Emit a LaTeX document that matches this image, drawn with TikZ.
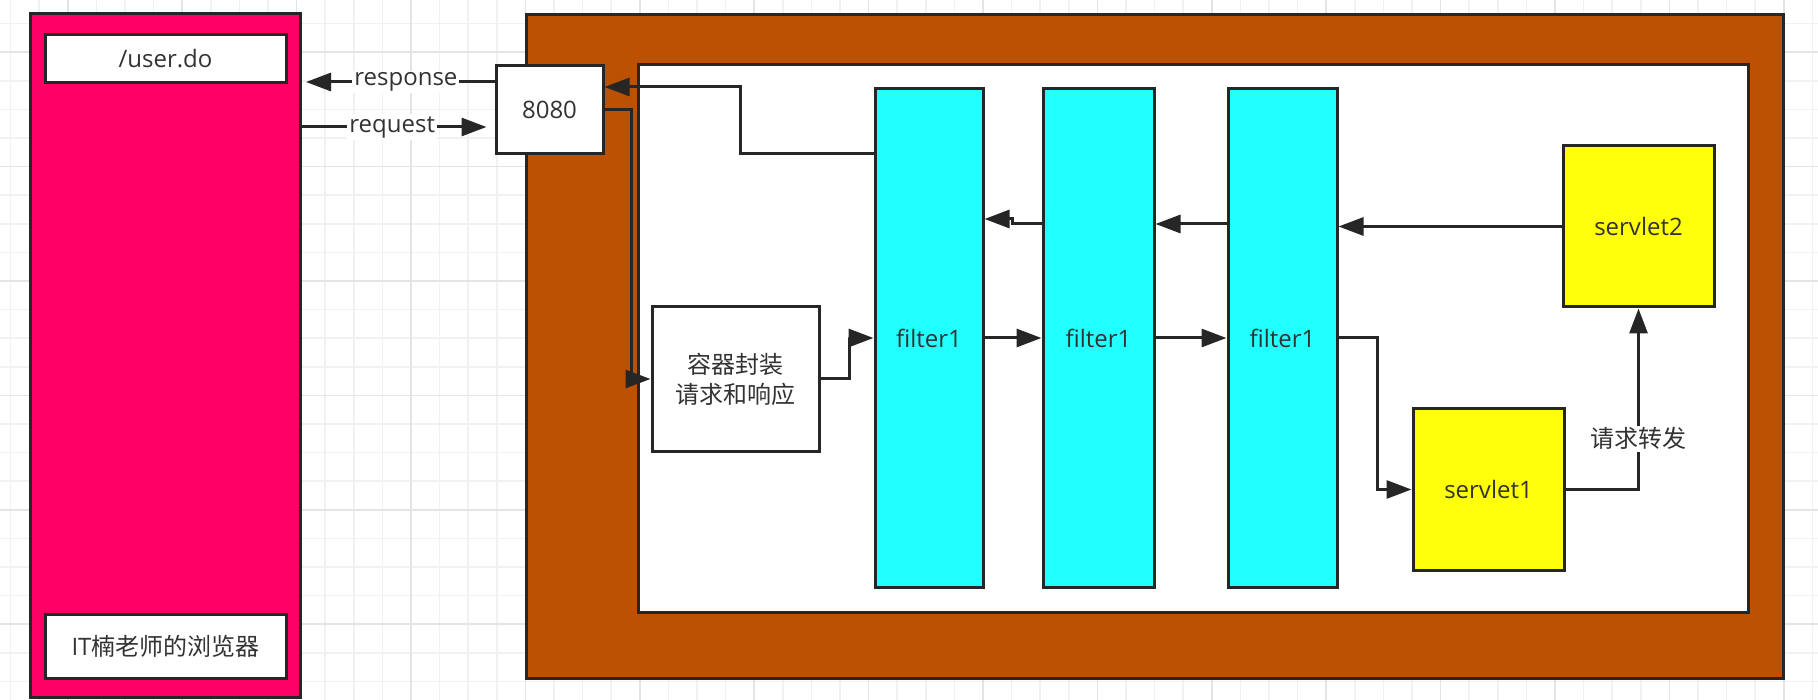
\documentclass[tikz,border=0pt]{standalone}
\usepackage{fontspec}
\newfontfamily\cjk{Noto Sans CJK SC}
\newfontfamily\latin{Open Sans}
\definecolor{BrowserPink}{HTML}{FF0066}
\definecolor{ServerBrown}{HTML}{BD5102}
\definecolor{FilterCyan}{HTML}{22FFFF}
\definecolor{ServletYellow}{HTML}{FFFF0A}
\definecolor{LineDark}{HTML}{262626}
\definecolor{TextGray}{HTML}{333333}
\definecolor{GridMinor}{HTML}{F1F1F1}
\definecolor{GridMajor}{HTML}{E4E4E4}
\usetikzlibrary{arrows.meta, positioning, calc}
\tikzset{
    box/.style={
        draw=LineDark,
        line width=3pt,
        fill=#1,
        text=TextGray,
        font=\latin\fontsize{24}{30}\selectfont,
        align=center,
        inner sep=0pt
    },
    box/.default=white,
    cjkbox/.style={
        box=#1,
        font=\cjk\fontsize{24}{30}\selectfont
    },
    cjkbox/.default=white,
    arrow/.style={
        -{Triangle[length=25pt,width=18pt]},
        line width=3pt,
        LineDark
    },
    lbl/.style={
        fill=white,
        inner sep=2pt,
        text=TextGray,
        font=\latin\fontsize{24}{30}\selectfont
    },
    gridline/.style={
        line width=1.6pt,
        #1
    }
}

\begin{document}
\begin{tikzpicture}[x=1pt, y=-1pt]
        \useasboundingbox (0,0) rectangle (1818,700);
        \fill[white] (0,0) rectangle (1818,700);

        % Background grid
        \foreach \k in {0,...,63} {\draw[gridline=GridMinor] ({10.6+28.6*\k},0) -- ++(0,700);}
        \foreach \k in {0,...,23} {\draw[gridline=GridMinor] (0,{23.6+28.6*\k}) -- ++(1818,0);}
        \foreach \k in {2,6,...,62} {\draw[gridline=GridMajor] ({10.6+28.6*\k},0) -- ++(0,700);}
        \foreach \k in {1,5,...,21} {\draw[gridline=GridMajor] (0,{23.6+28.6*\k}) -- ++(1818,0);}

        % Browser box
        \node[box=BrowserPink, minimum width=270, minimum height=683] (browser) at (165,355.5) {};
        \node[box, minimum width=241, minimum height=48] (url) at (165.5,59) {/user.do};
        \node[cjkbox, minimum width=241, minimum height=64] (owner) at (165.5,646) {{\latin IT}楠老师的浏览器};

        % Server box
        \node[box=ServerBrown, minimum width=1257, minimum height=663] (server) at (1154.5,346.5) {};
        \node[box, minimum width=1110, minimum height=547] (container) at (1193,338.5) {};
        \node[box, minimum width=107, minimum height=88] (port) at (549.5,110) {8080};

        % Wrapper, filters and servlets
        \node[cjkbox, minimum width=167, minimum height=144] (wrap) at (735.5,379) {容器封装\\请求和响应};
        \node[box=FilterCyan, minimum width=108, minimum height=498] (f1) at (929,338) {filter1};
        \node[box=FilterCyan, minimum width=111, minimum height=498] (f2) at (1098.5,338) {filter1};
        \node[box=FilterCyan, minimum width=109, minimum height=498] (f3) at (1282.5,338) {filter1};
        \node[box=ServletYellow, minimum width=151, minimum height=161] (s2) at (1638.5,226.5) {servlet2};
        \node[box=ServletYellow, minimum width=151, minimum height=161] (s1) at (1488.5,489.5) {servlet1};

        % Levels for arrows
        \coordinate (respEnd) at (306,82);
        \coordinate (reqLevel) at (0,127);
        \coordinate (backLevel) at (0,224);
        \coordinate (outLevel) at (0,154);
        \coordinate (inLevel) at (0,87);

        % Browser and port
        \draw[arrow] (port.west |- respEnd) -- node[lbl, pos=0.47]{response} (respEnd);
        \draw[arrow, shorten >=8pt] (browser.east |- reqLevel) -- node[lbl, pos=0.47]{request} (port.west |- reqLevel);

        % Request path
        \draw[arrow] (port.east) -- ++(27,0) |- (wrap.west);
        \draw[arrow] (wrap.east) -- ++(29,0) |- (f1.west);
        \draw[arrow] (f1.east) -- (f2.west);
        \draw[arrow] (f2.east) -- (f3.west);
        \draw[arrow] (f3.east) -- ++(39,0) |- (s1.west);
        \draw[arrow] (s1.east) -| node[lbl, font=\cjk\fontsize{24}{30}\selectfont, pos=0.64]{请求转发} (s2.south);

        % Response path
        \draw[arrow] (s2.west) -- (f3.east |- s2.west);
        \draw[arrow] (f3.west |- backLevel) -- (f2.east |- backLevel);
        \draw[arrow] (f2.west |- backLevel) -- ++(-29,0) -- ++(0,-5) -- ($(f1.east |- backLevel)+(0,-5)$);
        \draw[arrow] (f1.west |- outLevel) -- ++(-133,0) |- (port.east |- inLevel);
    \end{tikzpicture}
\end{document}
